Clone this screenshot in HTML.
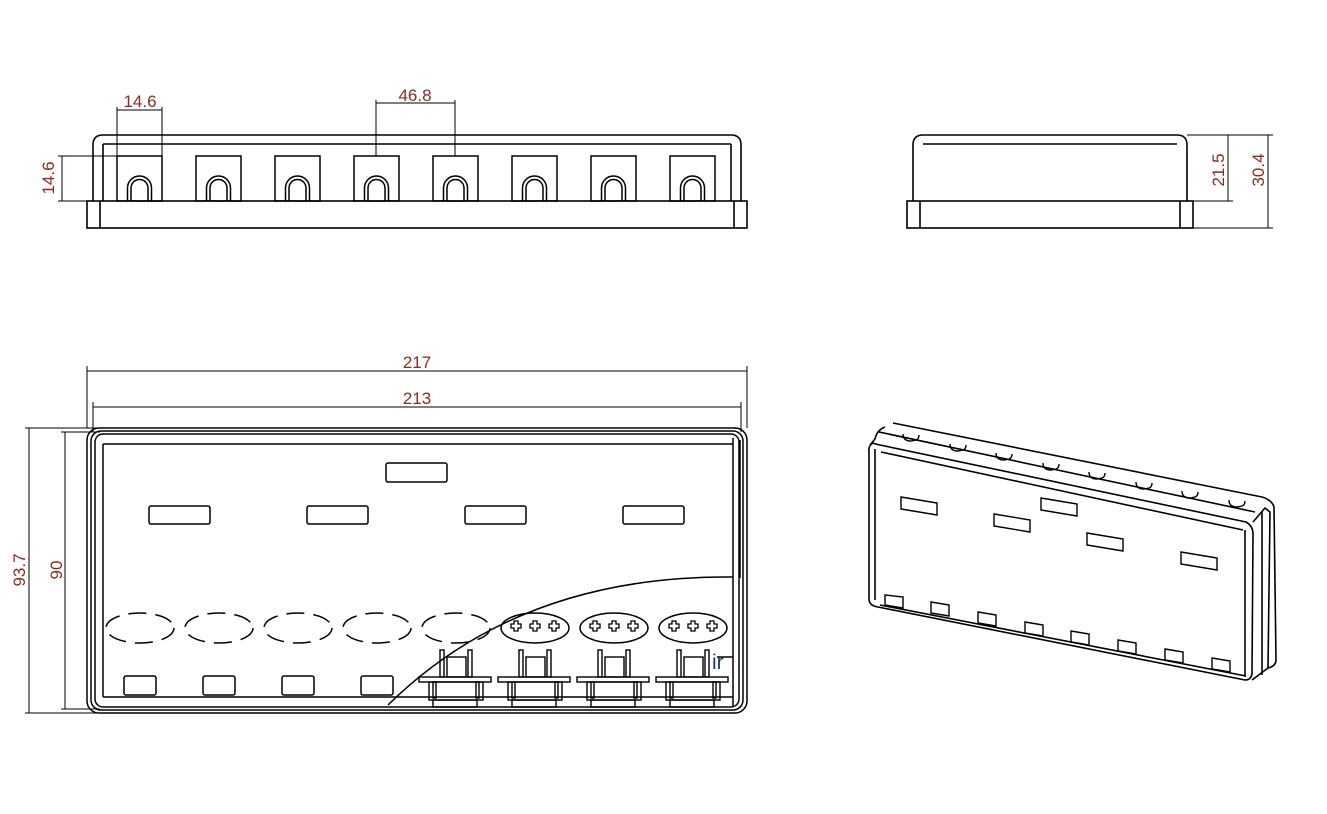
<!DOCTYPE html>
<html><head><meta charset="utf-8"><style>
html,body{margin:0;padding:0;background:#fff;}
svg{display:block;}
text{font-family:"Liberation Sans",sans-serif;font-size:17px;fill:#8b2a1e;}
</style></head><body>
<svg width="1327" height="814" viewBox="0 0 1327 814" xmlns="http://www.w3.org/2000/svg">
<defs>
<g id="slot" fill="none" stroke="#000" stroke-width="1.5">
<rect x="0" y="0" width="45" height="45"/>
<path d="M10.5 45 V32 a12 12 0 0 1 24 0 V45"/>
<path d="M14 45 V32 a8.5 8.5 0 0 1 17 0 V45"/>
</g>
<g id="conn" fill="none" stroke="#000" stroke-width="1.4">
<rect x="-20" y="-28" width="4" height="27"/>
<rect x="8" y="-28" width="4" height="27"/>
<rect x="-13" y="-21" width="19" height="20"/>
<rect x="-41" y="-1" width="72" height="5"/>
<rect x="-31" y="4" width="54" height="18"/>
<rect x="-27" y="4" width="3" height="16"/>
<rect x="16" y="4" width="3" height="16"/>
<rect x="-27" y="22" width="44" height="7"/>
</g>
<g id="plus" fill="none" stroke="#000" stroke-width="1.3">
<path d="M-2-5h4v3h3v4h-3v3h-4v-3h-3v-4h3z"/>
</g>
</defs>
<g fill="none" stroke="#000" stroke-width="1.6">
<rect x="87" y="201" width="660" height="27"/>
<line x1="100" y1="201" x2="100" y2="228"/>
<line x1="734" y1="201" x2="734" y2="228"/>
<path d="M93 201 V145 q0-10 10-10 H731 q10 0 10 10 V201"/>
<line x1="103" y1="144" x2="731" y2="144"/>
<line x1="103" y1="144" x2="103" y2="201"/>
<line x1="731" y1="144" x2="731" y2="201"/>
<use href="#slot" x="117" y="156"/>
<use href="#slot" x="196" y="156"/>
<use href="#slot" x="275" y="156"/>
<use href="#slot" x="354" y="156"/>
<use href="#slot" x="433" y="156"/>
<use href="#slot" x="512" y="156"/>
<use href="#slot" x="591" y="156"/>
<use href="#slot" x="670" y="156"/>
</g>
<g fill="none" stroke="#000" stroke-width="1">
<line x1="117" y1="110" x2="162" y2="110"/><line x1="117" y1="107" x2="117" y2="156"/><line x1="162" y1="107" x2="162" y2="156"/>
<line x1="376" y1="103" x2="455" y2="103"/><line x1="376" y1="100" x2="376" y2="156"/><line x1="455" y1="100" x2="455" y2="156"/>
<line x1="62" y1="156" x2="62" y2="201"/><line x1="58" y1="156" x2="117" y2="156"/><line x1="58" y1="201" x2="93" y2="201"/>
</g>
<text x="140" y="107" text-anchor="middle">14.6</text>
<text x="415" y="101" text-anchor="middle">46.8</text>
<text transform="translate(54,178) rotate(-90)" text-anchor="middle">14.6</text>

<g fill="none" stroke="#000" stroke-width="1.6">
<rect x="907" y="201" width="286" height="27"/>
<line x1="920" y1="201" x2="920" y2="228"/>
<line x1="1180" y1="201" x2="1180" y2="228"/>
<path d="M913 201 V145 q0-10 10-10 H1177 q10 0 10 10 V201"/>
<line x1="923" y1="144" x2="1177" y2="144"/>
</g>
<g fill="none" stroke="#000" stroke-width="1">
<line x1="1187" y1="135" x2="1273" y2="135"/>
<line x1="1193" y1="201" x2="1233" y2="201"/>
<line x1="1193" y1="228" x2="1273" y2="228"/>
<line x1="1228" y1="135" x2="1228" y2="201"/>
<line x1="1268" y1="135" x2="1268" y2="228"/>
</g>
<text transform="translate(1224,170) rotate(-90)" text-anchor="middle">21.5</text>
<text transform="translate(1264,170) rotate(-90)" text-anchor="middle">30.4</text>

<g fill="none" stroke="#000" stroke-width="1">
<line x1="87" y1="371" x2="747" y2="371"/><line x1="87" y1="366" x2="87" y2="428"/><line x1="747" y1="366" x2="747" y2="428"/>
<line x1="93" y1="407" x2="741" y2="407"/><line x1="93" y1="402" x2="93" y2="432"/><line x1="741" y1="402" x2="741" y2="432"/>
<line x1="29" y1="428" x2="29" y2="713"/><line x1="25" y1="428" x2="100" y2="428"/><line x1="25" y1="713" x2="100" y2="713"/>
<line x1="65" y1="432" x2="65" y2="709"/><line x1="61" y1="432" x2="100" y2="432"/><line x1="61" y1="709" x2="100" y2="709"/>
</g>
<text x="417" y="368" text-anchor="middle">217</text>
<text x="417" y="404" text-anchor="middle">213</text>
<text transform="translate(25,570) rotate(-90)" text-anchor="middle">93.7</text>
<text transform="translate(62,570) rotate(-90)" text-anchor="middle">90</text>

<g fill="none" stroke="#000" stroke-width="1.5">
<rect x="87" y="428" width="660" height="285" rx="12"/>
<rect x="91" y="431" width="652" height="279" rx="10"/>
<rect x="95" y="434" width="644" height="273" rx="8"/>
<line x1="103" y1="444" x2="733" y2="444"/>
<line x1="103" y1="444" x2="103" y2="697"/>
<line x1="103" y1="697" x2="733" y2="697"/>
<line x1="733" y1="438" x2="733" y2="707"/>
<line x1="740" y1="440" x2="740" y2="578"/>
<rect x="386" y="463" width="61" height="19" rx="2"/>
<rect x="149" y="506" width="61" height="18" rx="2"/>
<rect x="307" y="506" width="61" height="18" rx="2"/>
<rect x="465" y="506" width="61" height="18" rx="2"/>
<rect x="623" y="506" width="61" height="18" rx="2"/>
<rect x="124" y="676" width="32" height="19" rx="2"/>
<rect x="203" y="676" width="32" height="19" rx="2"/>
<rect x="282" y="676" width="32" height="19" rx="2"/>
<rect x="361" y="676" width="32" height="19" rx="2"/>
<g stroke-dasharray="18 9">
<ellipse cx="140" cy="628" rx="34" ry="15"/>
<ellipse cx="219" cy="628" rx="34" ry="15"/>
<ellipse cx="298" cy="628" rx="34" ry="15"/>
<ellipse cx="377" cy="628" rx="34" ry="15"/>
<ellipse cx="456" cy="628" rx="34" ry="15"/>
</g>
<ellipse cx="535" cy="628" rx="34" ry="15"/>
<ellipse cx="614" cy="628" rx="34" ry="15"/>
<ellipse cx="693" cy="628" rx="34" ry="15"/>
<path d="M388 705 Q520 575 733 577"/>
<line x1="717" y1="657" x2="733" y2="657"/>
</g>
<use href="#plus" x="516" y="626"/><use href="#plus" x="535" y="626"/><use href="#plus" x="554" y="626"/>
<use href="#plus" x="595" y="626"/><use href="#plus" x="614" y="626"/><use href="#plus" x="633" y="626"/>
<use href="#plus" x="674" y="626"/><use href="#plus" x="693" y="626"/><use href="#plus" x="712" y="626"/>
<use href="#conn" x="460" y="678"/>
<use href="#conn" x="539" y="678"/>
<use href="#conn" x="618" y="678"/>
<use href="#conn" x="697" y="678"/>
<text x="712" y="669" style="fill:#1f3d6b;font-size:21px">ir</text>

<g fill="none" stroke="#000" stroke-width="1.6" stroke-linejoin="round">
<path d="M893 423 L1262 497 q10 3 12 10 L1276 660 q0 6-8 8"/>
<path d="M885 427 q-8 3-10 12 L870 445"/>
<path d="M879 432 L1255 512"/>
<path d="M873 443 Q868 446 869 452 L869 600 Q870 606 878 607 L1245 680 Q1251 680 1252 674 L1253 534 Q1253 526 1246 522 L880 445 Q875 444 873 443"/>
<path d="M875 449 L875 600"/>
<path d="M881 452 L1243 530"/>
<path d="M880 605 L1246 676"/>
<path d="M1245 530 L1245 677"/>
<path d="M1253 522 L1265 508 L1270 512 L1268 668 L1252 680"/>
<path d="M1262 512 L1262 675"/>
</g>
<g fill="none" stroke="#000" stroke-width="1.4">
<path d="M901 497 l36 6 v12 l-36-6z"/>
<path d="M994 514 l36 6 v12 l-36-6z"/>
<path d="M1041 498 l36 6 v12 l-36-6z"/>
<path d="M1087 533 l36 6 v12 l-36-6z"/>
<path d="M1181 552 l36 6 v12 l-36-6z"/>
<path d="M885 595 l18 2 v11 l-18-3z"/>
<path d="M931 602 l18 3 v11 l-18-3z"/>
<path d="M978 612 l18 3 v11 l-18-3z"/>
<path d="M1025 622 l18 3 v11 l-18-3z"/>
<path d="M1071 631 l18 3 v11 l-18-3z"/>
<path d="M1118 640 l18 3 v11 l-18-3z"/>
<path d="M1165 649 l18 3 v11 l-18-3z"/>
<path d="M1212 658 l18 3 v11 l-18-3z"/>
<path d="M903 434 q0 7 8 7 l5-1 q3-1 3-5"/>
<path d="M950 444 q0 7 8 7 l5-1 q3-1 3-5"/>
<path d="M996 453 q0 7 8 7 l5-1 q3-1 3-5"/>
<path d="M1043 463 q0 7 8 7 l5-1 q3-1 3-5"/>
<path d="M1089 472 q0 7 8 7 l5-1 q3-1 3-5"/>
<path d="M1136 482 q0 7 8 7 l5-1 q3-1 3-5"/>
<path d="M1182 491 q0 7 8 7 l5-1 q3-1 3-5"/>
<path d="M1229 500 q0 7 8 7 l5-1 q3-1 3-5"/>
</g>
</svg>
</body></html>
